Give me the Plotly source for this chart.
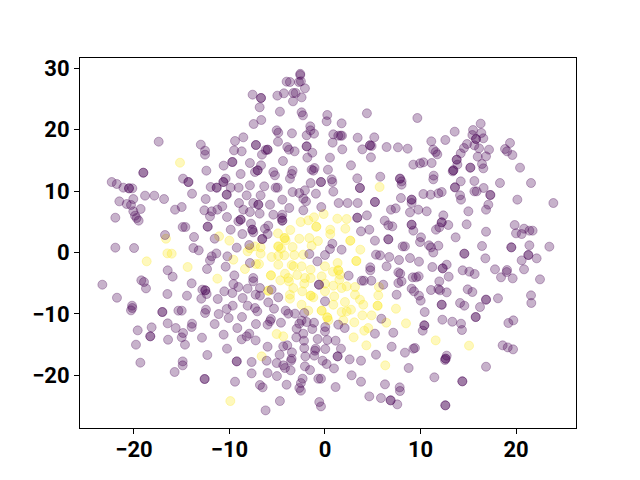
import plotly.graph_objects as go

purple_xy = [
(-17.41,18.05),(-19.02,13.0),(-19.02,13.0),(-13.0,17.57),(-12.56,16.59),(-12.56,15.94),(-9.70,14.74),(-9.70,14.74),(-10.61,14.15),(-12.42,13.33),
(-9.42,18.16),(-8.55,18.76),(-9.52,16.64),(-8.72,16.48),(-8.83,12.79),(-14.86,12.03),(-10.40,12.03),(-14.3,11.48),(-14.3,11.48),(-10.64,11.48),(-10.64,11.48),(-22.33,11.48),(-21.8,11.16),
(-21.11,10.56),(-20.52,10.45),(-20.52,10.45),(-20.17,10.45),(-21.53,8.33),(-20.76,7.90),(-20.31,7.74),(-20.07,8.71),(-19.30,7.09),(-20.07,6.71),(-19.89,6.0),(-19.72,5.62),(-19.51,5.19),(-21.95,5.67),
(-18.84,9.26),(-17.87,9.26),(-16.85,8.71),(-15.70,6.98),(-15.0,7.41),(-13.92,9.58),(-11.97,10.67),(-11.34,10.56),(-11.34,10.56),(-9.87,10.56),(-9.04,10.56),(-10.29,9.42),(-10.29,9.42),(-12.49,8.71),(-9.0,8.06),
(-10.75,7.52),(-11.27,6.98),(-11.86,6.71),(-12.63,6.87),(-12.04,5.89),(-10.26,5.78),(-8.55,6.98),(-8.83,5.35),(-8.83,5.35),(-9.07,5.08),(-14.90,4.15),(-14.62,4.15),(-12.28,4.21),(-12.28,4.21),(-9.87,3.72),(-8.65,3.01),
(-16.75,2.85),(-13.71,2.53),(-11.55,2.25),(-9.24,0.79),(-21.95,0.79),(-19.99,0.73),(-13.78,0.73),(-13.22,0.35),(-11.37,-0.14),(-11.86,-0.62),(-12.04,-1.28),(-10.22,-0.62),(-12.35,-2.69),(-10.40,-2.31),(-16.47,-2.90),(-15.95,-3.93),
(-9.49,-3.72),(-19.23,-4.53),(-18.95,-4.80),(-18.74,-5.84),(-23.31,-5.24),(-13.96,-5.02),(-9.59,-5.13),(-9.07,-5.62),(-9.70,-6.60),(-10.54,-6.32),(-12.84,-6.05),(-12.53,-6.16),(-12.53,-6.16),(-12.39,-6.76),(-12.95,-7.52),(-16.5,-6.76),(-14.45,-7.03),(-11.23,-7.57),(-21.78,-7.36),(-8.62,-7.41),(-9.66,-8.66),(-20.2,-8.66),
(-20.31,-9.42),(-20.17,-9.04),(-17.03,-9.69),(-17.03,-9.69),(-15.35,-9.47),(-15.0,-9.47),(-12.56,-9.85),(-12.46,-9.31),(-11.13,-10.02),(-10.29,-9.2),(-10.08,-10.67),(-8.69,-10.5),(-16.47,-11.54),(-18.15,-12.19),(-19.61,-12.68),(-15.63,-12.30),(-13.92,-11.59),(-13.96,-12.13),(-11.55,-11.65),(-14.86,-13.11),(-15.0,-13.82),(-18.29,-13.65),(-18.29,-13.65),(-16.43,-14.2),(-12.88,-13.87),(-10.61,-13.38),(-9.18,-12.30),(-8.72,-14.14),(-19.79,-15.01),(-14.66,-15.01),(-10.26,-15.66),(-12.32,-16.69),(-9.24,-17.73),(-9.24,-17.73),(-19.33,-17.94),(-14.90,-17.73),(-14.90,-18.38),(-15.74,-19.46),(-12.60,-20.60),(-12.60,-20.60),(-9.42,-21.04),
(-2.59,29.1),(-2.59,28.9),(-4.02,27.83),(-3.67,27.77),(-2.73,27.77),(-2.52,27.88),(-2.10,26.74),(-7.58,25.71),(-4.99,25.55),(-4.30,25.93),(-3.32,25.98),(-3.07,25.98),(-2.45,25.27),(-6.70,25.17),(-6.70,25.17),(-3.35,24.62),(-6.84,23.65),(-4.72,22.94),(-2.45,22.83),(-2.31,22.34),(0.24,22.40),(0.17,21.37),(1.74,21.04),(4.39,22.67),(-6.67,21.58),(-7.47,20.93),(-1.54,20.55),(-5.06,19.90),(-4.89,19.52),(-1.52,19.90),(-3.46,19.41),(-1.92,19.09),(-1.15,19.36),(0.87,19.25),(1.39,19.03),(1.64,19.03),(1.78,19.03),(3.42,18.70),(5.16,18.76),
(-7.23,17.51),(-7.23,17.51),(-4.92,18.05),(-3.95,17.18),(-3.77,16.75),(-3.18,16.48),(-1.92,17.29),(-1.92,17.29),(0.80,17.89),(-1.33,16.26),(-6.01,16.75),(-6.01,16.75),(-6.22,16.7),(-6.60,15.94),(-1.85,15.45),(0.52,15.45),(1.81,16.80),(3.91,16.80),(4.71,17.46),(4.71,17.46),(4.88,17.35),(4.81,15.50),(6.45,17.18),(7.64,17.13),(8.65,16.91),
(-7.86,14.58),(-6.70,14.20),(-7.05,13.38),(-7.05,13.38),(-7.33,13.11),(-4.40,14.90),(-5.41,13.11),(-5.24,12.57),(-3.39,13.33),(-3.49,12.79),(-3.67,12.03),(-1.40,13.49),(-1.09,13.76),(-1.22,13.33),(0.31,13.49),(2.72,14.20),(3.38,12.08),(5.79,12.35),(7.85,12.03),(7.85,12.03),(8.02,11.59),(0.70,11.92),(0.77,11.48),(-0.42,11.48),(-0.42,11.48),(-1.5,11.32),
(9.67,21.91),(16.30,20.99),(13.58,19.68),(15.50,19.95),(16.37,19.47),(15.43,19.14),(11.13,18.11),(12.60,18.33),(15.81,18.49),(15.81,18.49),(16.58,18.60),(14.87,17.67),(14.55,17.02),(15.64,17.46),(16.13,16.97),(17.17,16.75),(11.34,16.75),(11.59,16.37),(11.76,15.99),(14.21,16.15),(19.37,17.84),(18.85,16.86),(19.06,16.48),(19.62,15.88),(15.99,15.61),(16.86,15.66),(13.79,15.12),(13.79,15.12),(13.86,14.31),(16.44,14.42),(16.58,13.71),(20.42,13.82),(9.25,14.31),(9.95,14.53),(10.30,14.69),(11.17,14.58),(13.44,13.39),(13.44,13.39),(13.37,13.22),(15.22,13.82),(15.22,13.82),(11.38,12.52),(11.34,11.92),(14.21,11.59),(15.64,11.65),(18.32,11.32),(21.57,11.32),
(-8.2,9.31),(-7.86,10.94),(-6.36,10.78),(-5.17,10.56),(-4.96,10.56),(-3.39,9.85),(-2.69,9.69),(-2.10,10.13),(-0.95,9.58),(0.87,9.91),(3.66,10.51),(3.66,10.51),(8.02,11.05),(-6.74,9.31),(-4.47,8.61),(-2.27,8.77),(-1.99,8.33),(-6.98,7.79),(-6.98,7.79),(-7.51,8.06),(-5.76,7.79),(1.43,8.06),(2.37,8.06),(3.42,8.06),(5.23,8.23),(5.23,8.23),(7.95,8.88),(-0.39,7.41),(-2.27,6.87),(-3.74,7.25),(-7.86,6.60),(-6.84,6.33),(-5.41,6.16),(-4.47,6.16),(-4.47,5.19),(-4.47,5.19),(-4.54,5.62),(6.91,6.98),(7.40,7.19),(3.38,5.67),(3.38,5.67),(4.39,6.05),(6.25,5.19),(6.63,4.43),(7.05,4.26),
(-7.75,4.70),(-7.61,3.72),(-7.61,3.72),(-7.51,3.29),(-5.94,4.37),(-6.29,3.88),(-6.01,3.01),(-6.57,2.20),(-6.57,2.20),(-7.93,1.22),(0.77,1.44),(0.52,0.57),(1.74,0.46),(-0.0,-0.41),(-1.64,-0.24),(-0.80,-1.44),(-7.86,-1.71),(2.48,-3.77),(3.77,3.45),(4.64,3.72),(5.23,1.93),(6.63,2.15),(6.63,2.15),(8.13,1.0),(8.37,1.0),(5.34,-0.35),(5.76,-0.46),(6.73,-0.73),(7.75,-1.22),(6.45,-2.25),(4.74,-2.41),(4.74,-2.90),(4.85,-4.59),(3.84,-4.59),(4.08,-4.59),(7.68,-3.23),(7.88,-3.45),(8.02,-4.70),(7.68,-4.97),(6.10,-5.24),(7.50,-6.87),(-0.63,-5.24),(-0.63,-5.24),(-7.51,-4.15),(-7.51,-4.69),(-8.10,-5.89),(-6.81,-5.78),(-7.26,-6.87),(-6.81,-7.03),(-5.94,-8.12),(-4.89,-7.30),(-8.10,-8.66),(-7.33,-9.04),(-0.0,-7.95),(-5.59,-6.05),
(-7.09,-9.58),(-5.34,-9.15),(-4.12,-9.47),(-3.84,-9.96),(-3.14,-9.96),(-2.17,-9.85),(-7.23,-11.65),(-5.66,-10.83),(-5.76,-11.21),(-6.01,-11.75),(-4.61,-11.43),(-2.45,-11.10),(-2.69,-11.59),(-1.92,-11.32),(-1.15,-11.43),(-2.97,-12.41),(-1.33,-12.46),(0.03,-12.13),(-0.0,-12.84),(1.39,-11.75),(2.06,-12.30),(5.90,-10.78),(7.15,-13.06),(5.23,-13.22),(-7.93,-13.22),(-8.2,-13.65),(-7.26,-14.31),(-2.27,-13.22),(-3.0,-13.82),(-2.20,-14.36),(-0.77,-14.09),(0.24,-14.25),(1.11,-14.36),(-3.95,-15.12),(-4.37,-15.28),(-6.01,-15.34),(-2.17,-15.55),(-0.98,-15.66),(-1.05,-15.99),(0.03,-15.72),(1.67,-15.66),(6.98,-15.34),(8.37,-16.31),(-3.46,-16.26),(-4.75,-16.64),(-2.06,-16.91),(-1.12,-16.80),(5.34,-16.64),(1.32,-16.91),(1.32,-16.91),(-3.49,-17.29),(-3.56,-17.62),(-7.68,-17.83),(-6.11,-17.62),(-5.06,-18.0),(2.58,-17.40),(3.77,-17.62),(-0.25,-17.62),(0.17,-18.16),(-4.37,-18.38),(-4.19,-18.81),(-2.10,-18.54),(-1.57,-19.14),(-3.60,-19.19),(0.94,-18.87),(8.76,-18.81),
(-7.68,-19.68),(-6.01,-19.63),(-5.03,-20.12),(2.79,-20.0),(3.77,-21.04),(-2.34,-20.55),(-0.70,-20.55),(-0.42,-20.55),(-2.52,-21.26),(-4.02,-21.53),(-6.81,-21.58),(-6.53,-21.96),(1.11,-21.91),(6.28,-21.47),(-2.69,-22.07),(-2.52,-22.50),(7.82,-21.96),(7.85,-22.56),(4.64,-23.43),(5.86,-23.70),(6.87,-24.08),(6.87,-24.08),(7.57,-24.73),(-4.72,-24.19),(-0.60,-24.35),(-0.42,-25.06),(-6.22,-25.71),
(10.30,9.53),(11.06,9.42),(11.87,9.64),(12.22,9.85),(13.61,10.61),(13.61,10.61),(14.14,9.31),(14.24,8.61),(15.64,9.96),(15.88,9.96),(16.61,10.51),(17.31,9.37),(17.31,9.37),(20.14,8.61),(23.91,8.06),(17.10,7.79),(16.86,6.98),(15.01,6.71),(9.07,8.61),(9.07,8.61),(9.07,8.06),(9.77,6.98),(10.65,6.71),(8.90,6.54),(12.39,6.05),(12.22,4.91),(12.22,4.91),(12.91,4.48),(11.97,4.10),(11.62,3.72),(14.83,4.59),(16.86,3.39),(13.68,2.47),(9.07,4.53),(9.07,4.53),(9.25,3.56),(10.05,2.47),(9.95,1.71),(10.89,1.17),(11.10,0.84),(11.87,1.11),(11.34,0.0),(16.44,1.06),(19.51,0.84),(19.51,0.84),(21.40,1.17),(23.49,0.95),(14.59,-0.19),(14.59,-0.19),(21.29,-0.41),(21.29,-0.41),(19.86,4.48),(20.0,3.12),(20.84,3.88),(20.59,3.01),(21.40,3.56),(21.74,3.56),(20.59,-1.28),(22.16,-0.95),(16.79,-0.95),(9.84,-1.49),(12.74,-1.98),(12.32,-2.58),(12.32,-2.58),(11.24,-2.36),(14.41,-2.90),(15.11,-3.12),(15.67,-3.50),(17.80,-2.74),(19.06,-2.85),(19.02,-3.18),(20.84,-2.74),(18.43,-4.04),(19.65,-4.21),(22.51,-4.37),(12.95,-3.93),(11.97,-4.70),(9.81,-3.88),(9.53,-4.04),(9.18,-4.04),(8.9,-0.9),
(11.10,-6.11),(11.87,-5.94),(12.04,-6.16),(12.74,-6.49),(9.07,-5.89),(9.32,-6.32),(9.84,-7.03),(10.02,-7.84),(14.94,-6.0),(15.43,-6.43),(18.11,-7.46),(16.86,-7.68),(16.86,-7.68),(14.14,-8.22),(14.59,-8.66),(12.22,-8.50),(12.22,-8.50),(16.23,-8.88),(21.57,-6.98),(21.60,-8.22),
(10.44,-9.69),(15.78,-10.51),(15.78,-10.51),(12.29,-10.94),(13.33,-11.27),(14.24,-11.59),(14.34,-12.62),(10.40,-11.86),(10.40,-11.86),(10.23,-12.73),(19.20,-11.48),(19.72,-11.05),(18.60,-15.12),(19.13,-15.45),(19.69,-15.77),(9.42,-15.55),(9.25,-15.66),(12.74,-16.80),(12.63,-17.29),(12.63,-17.29),(12.56,-17.51),(16.86,-18.60),(11.45,-20.33),(14.38,-20.98),(14.38,-20.98),(12.60,-24.89),(12.60,-24.89),
]

yellow_xy = [
(-15.18,14.63),(-16.65,2.25),(-11.09,2.63),(-10.01,1.93),(-16.5,-0.14),(-16.05,-0.19),(-9.59,-1.17),(-18.67,-1.44),(-14.38,-2.36),(-11.27,-4.26),(-9.91,-24.19),
(5.72,10.67),(-0.14,6.27),(-1.15,5.73),(-1.75,5.24),(-2.55,4.97),(-0.91,4.21),(-0.91,4.21),(1.29,5.51),(2.27,5.46),(2.13,3.88),(0.55,3.72),(0.55,3.01),(2.65,1.93),(2.65,1.93),(-3.63,3.67),(-4.92,3.12),(-4.23,2.36),(-4.23,2.36),(-4.12,1.98),(-2.69,2.25),(-1.64,2.36),(-0.74,1.87),(-1.40,1.11),(-3.39,0.90),(-4.89,1.0),(-4.89,1.0),(-4.61,0.63),(-6.74,0.84),(-6.74,-0.19),(-8.10,0.19),(-7.86,0.7),(-7.33,1.0),
(-5.59,-0.73),(-4.89,-0.51),(-4.26,-0.46),(-3.21,-0.41),(-2.27,-0.35),(3.70,0.46),(3.28,-1.38),(3.28,-1.38),(-4.89,-1.98),(-3.49,-2.04),(-3.28,-2.25),(-2.45,-2.25),(-1.50,-2.79),(-0.0,-2.25),(-7.23,-1.87),(-6.91,-1.87),(-8.38,-2.69),(1.32,-1.71),(0.83,-3.12),(1.39,-2.90),(1.39,-2.90),(1.57,-3.61),(-5.66,-3.72),(-5.66,-3.72),(-4.19,-3.45),(-2.90,-3.66),(-3.84,-4.15),(-4.68,-4.53),(-3.77,-4.70),(-2.10,-4.15),(-1.50,-4.15),(-2.17,-5.07),(-0.35,-3.88),(-0.0,-5.07),(1.50,-4.42),(-3.32,-5.78),(-3.67,-6.87),(-3.67,-7.52),(-2.38,-6.32),(0.87,-5.40),(1.74,-5.78),(2.27,-5.51),(3.14,-5.62),(5.65,-5.62),(-5.94,-6.22),(-5.94,-6.22),(-1.50,-7.03),(-1.50,-7.03),(-1.22,-7.30),(-0.0,-6.32),(0.97,-7.14),(3.14,-6.87),(3.66,-7.68),(5.58,-6.98),(5.51,-8.66),(5.51,-8.66),(2.09,-8.06),(-2.45,-8.50),(0.87,-8.5),(4.01,-8.5),
(-5.06,-13.27),(-4.37,-13.65),(-1.75,-9.47),(-0.35,-9.47),(-0.35,-9.47),(0.24,-10.56),(0.24,-10.56),(0.35,-11.05),(1.74,-9.69),(2.27,-9.58),(2.72,-9.31),(1.92,-11.05),(3.07,-11.37),(3.91,-10.23),(4.88,-10.23),(7.43,-9.15),(6.42,-11.43),(8.48,-11.54),(4.53,-12.30),(4.11,-12.73),(3.0,-13.82),(4.33,-15.12),(6.31,-18.38),(-6.63,-16.91),(11.59,-14.31),(15.08,-15.17),
]

x_ticks = [-20, -10, 0, 10, 20]
y_ticks = [-20, -10, 0, 10, 20, 30]

def layer(points, rgb):
    xs, ys = zip(*points)
    return go.Scatter(
        x=list(xs), y=list(ys), mode="markers", hoverinfo="skip", showlegend=False,
        marker=dict(size=9, color=f"rgba({rgb},0.3)", line=dict(width=1, color=f"rgba({rgb},0.3)")),
    )

fig = go.Figure([layer(yellow_xy, "253,231,37"), layer(purple_xy, "68,1,84")])

axis = dict(showgrid=False, zeroline=False, showline=True, mirror=True, linecolor="black", linewidth=1,
            ticks="outside", ticklen=5, tickwidth=1, tickcolor="black", automargin=False,
            tickfont=dict(family="Roboto", size=22, color="black", weight="bold"))
fig.update_xaxes(range=[-25.65, 26.28], tickvals=x_ticks, ticklabelstandoff=-3, **axis)
fig.update_yaxes(range=[-28.58, 31.68], tickvals=y_ticks, **axis)
fig.update_layout(width=624, height=464, margin=dict(l=72, r=56, t=50, b=44),
                  plot_bgcolor="white", paper_bgcolor="white")
fig.write_html("out.html")
